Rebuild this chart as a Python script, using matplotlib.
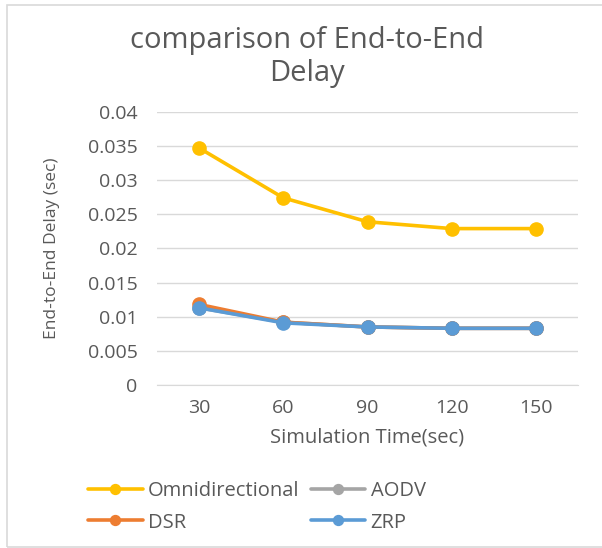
import matplotlib.pyplot as plt
from matplotlib.patches import Rectangle
import numpy as np

# simulation times and end-to-end delay (sec) for each protocol
sim_time = ['30', '60', '90', '120', '150']
omni = [0.0347, 0.0274, 0.0239, 0.0229, 0.0229]
aodv = [0.0113, 0.0092, 0.0085, 0.0083, 0.0083]
dsr = [0.0118, 0.0092, 0.0085, 0.0083, 0.0083]
zrp = [0.0113, 0.0091, 0.0085, 0.0083, 0.0083]

text_col = '#595959'
grid_col = '#D9D9D9'
plt.rcParams['font.family'] = ['Open Sans', 'DejaVu Sans']

fig = plt.figure(figsize=(6.02, 5.48), dpi=100)
ax = fig.add_axes([157 / 602, 1 - 385 / 548, 421 / 602, (385 - 111.8) / 548])

# light frame round the whole chart
fig.patches.append(Rectangle((7 / 602, 1 - 547 / 548), 1.2, (547 - 5) / 548,
                             transform=fig.transFigure, fill=False,
                             edgecolor=grid_col, linewidth=1.2))

x = np.arange(len(sim_time))
series = [('Omnidirectional', omni, '#FFC000'),
          ('AODV', aodv, '#A5A5A5'),
          ('DSR', dsr, '#ED7D31'),
          ('ZRP', zrp, '#5B9BD5')]
lines = {}
for name, vals, col in series:
    ln, = ax.plot(x, vals, color=col, linewidth=2.6, marker='o',
                  markersize=9.5, label=name, solid_capstyle='round')
    lines[name] = ln

ax.set_xlim(-0.5, len(sim_time) - 0.5)
ax.set_ylim(0, 0.04)
ax.set_yticks(np.arange(0, 0.0401, 0.005))
ax.set_yticklabels(['0', '0.005', '0.01', '0.015', '0.02', '0.025', '0.03', '0.035', '0.04'])
ax.set_xticks(x)
ax.set_xticklabels(sim_time)
ax.tick_params(axis='both', length=0, labelsize=14, labelcolor=text_col)
ax.tick_params(axis='y', pad=14)
ax.tick_params(axis='x', pad=10)

ax.grid(axis='y', color=grid_col, linewidth=1)
ax.set_axisbelow(True)
for s in ['top', 'right', 'left']:
    ax.spines[s].set_visible(False)
ax.spines['bottom'].set_color(grid_col)

ax.set_xlabel('Simulation Time(sec)', fontsize=14.5, color=text_col, labelpad=8)
ax.set_ylabel('End-to-End Delay (sec)', fontsize=12.5, color=text_col)
ax.yaxis.set_label_coords((60 - 157) / 421, 0.5)

fig.text(307 / 602, 1 - 57 / 548, 'comparison of End-to-End\nDelay', ha='center',
         va='center', fontsize=21, color=text_col, linespacing=1.15)

order = ['Omnidirectional', 'DSR', 'AODV', 'ZRP']
fig.legend([lines[n] for n in order], order, ncol=2, frameon=False,
           loc='center left', bbox_to_anchor=(70 / 602, 1 - 507 / 548),
           fontsize=14.5, labelcolor=text_col, handlelength=2.7,
           handletextpad=0.25, columnspacing=0.6, markerscale=0.75,
           labelspacing=0.55)

fig.savefig('out.png', dpi=100)
